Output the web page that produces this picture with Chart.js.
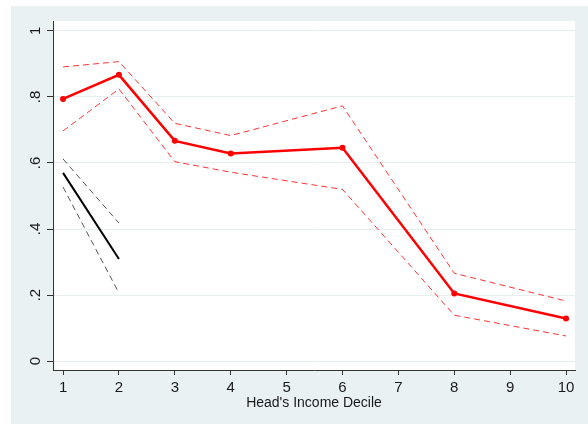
<!DOCTYPE html>
<html>
<head>
<meta charset="utf-8">
<script src="https://cdn.jsdelivr.net/npm/chart.js@4/dist/chart.umd.min.js"></script>
<style>
  html, body { margin: 0; padding: 0; background: #ffffff; }
  #wrap { width: 588px; height: 424px; position: relative; }
</style>
</head>
<body>
<div id="wrap"><canvas id="c" width="588" height="424"></canvas></div>
<script>
// ---- Data ----
const redDeciles   = [1, 2, 3, 4, 6, 8, 10];
const redMean      = [0.794, 0.867, 0.667, 0.629, 0.646, 0.205, 0.129];
const redUpper     = [0.891, 0.907, 0.720, 0.683, 0.773, 0.266, 0.182];
const redLower     = [0.697, 0.824, 0.604, 0.572, 0.520, 0.139, 0.076];

const blackDeciles = [1, 2];
const blackMean    = [0.570, 0.309];
const blackUpper   = [0.612, 0.418];
const blackLower   = [0.527, 0.206];

const xTicks = [1, 2, 3, 4, 5, 6, 7, 8, 9, 10];
const yTicks = [0, 0.2, 0.4, 0.6, 0.8, 1];
const yTickLabels = ['0', '.2', '.4', '.6', '.8', '1'];
const xTitle = "Head's Income Decile";

const pts = (xs, ys) => xs.map((x, i) => ({ x: x, y: ys[i] }));

const FONT = "'Liberation Sans', Arial, sans-serif";

const bgPlugin = {
  id: 'bg',
  beforeDraw(chart) {
    const ctx = chart.ctx;
    const a = chart.chartArea;
    ctx.save();
    ctx.fillStyle = '#ffffff';
    ctx.fillRect(0, 0, chart.width, chart.height);
    ctx.fillStyle = '#eaf1f3';
    ctx.fillRect(11, 6, chart.width - 11, chart.height - 6);
    ctx.fillStyle = '#ffffff';
    ctx.fillRect(a.left, a.top, a.right - a.left, a.bottom - a.top);
    ctx.restore();
  },
  afterDraw(chart) {
    const ctx = chart.ctx;
    const ys = chart.scales.y;
    ctx.save();
    ctx.fillStyle = '#1a1a1a';
    ctx.font = '15px ' + FONT;
    ctx.textAlign = 'center';
    ctx.textBaseline = 'middle';
    ys.ticks.forEach((t, i) => {
      const py = ys.getPixelForValue(t.value);
      ctx.save();
      ctx.translate(36, py);
      ctx.rotate(-Math.PI / 2);
      ctx.fillText(yTickLabels[i], 0, 0);
      ctx.restore();
    });
    ctx.restore();
  }
};

new Chart(document.getElementById('c'), {
  type: 'line',
  data: {
    datasets: [
      { data: pts(redDeciles, redUpper), borderColor: 'rgba(255,0,0,0.8)', borderWidth: 1, borderDash: [6, 4], pointRadius: 0, fill: false, tension: 0 },
      { data: pts(redDeciles, redLower), borderColor: 'rgba(255,0,0,0.8)', borderWidth: 1, borderDash: [6, 4], pointRadius: 0, fill: false, tension: 0 },
      { data: pts(blackDeciles, blackUpper), borderColor: '#555555', borderWidth: 1, borderDash: [6, 4], pointRadius: 0, fill: false, tension: 0 },
      { data: pts(blackDeciles, blackLower), borderColor: '#555555', borderWidth: 1, borderDash: [6, 4], pointRadius: 0, fill: false, tension: 0 },
      { data: pts(blackDeciles, blackMean), borderColor: '#000000', borderWidth: 2, pointRadius: 0, fill: false, tension: 0 },
      { data: pts(redDeciles, redMean), borderColor: '#ff0000', backgroundColor: '#ff0000', borderWidth: 2.5, pointRadius: 3, pointBorderWidth: 0, fill: false, tension: 0 }
    ]
  },
  options: {
    responsive: false,
    animation: false,
    events: [],
    layout: { padding: { left: 0, right: 13, top: 21, bottom: 0 } },
    plugins: { legend: { display: false }, tooltip: { enabled: false } },
    scales: {
      x: {
        type: 'linear',
        min: 0.82,
        max: 10.16,
        afterBuildTicks(s) { s.ticks = xTicks.map(v => ({ value: v })); },
        afterFit(s) { s.height = 54; },
        grid: { drawOnChartArea: false, drawTicks: true, tickLength: 5, tickColor: '#333333', tickWidth: 1 },
        border: { display: true, color: '#333333', width: 1 },
        ticks: { color: '#1a1a1a', font: { family: FONT, size: 15 }, padding: 4, maxRotation: 0, autoSkip: false, callback: v => String(v) },
        title: { display: true, text: xTitle, color: '#1a1a1a', font: { family: FONT, size: 14 }, padding: { top: 0, bottom: 12 } }
      },
      y: {
        type: 'linear',
        min: -0.027,
        max: 1.03,
        afterBuildTicks(s) { s.ticks = yTicks.map(v => ({ value: v })); },
        afterFit(s) { s.width = 53; },
        grid: { color: '#e6eef0', lineWidth: 1, drawTicks: true, tickLength: 6, tickColor: '#333333', tickWidth: 1 },
        border: { display: true, color: '#333333', width: 1 },
        ticks: { display: false }
      }
    }
  },
  plugins: [bgPlugin]
});
</script>
</body>
</html>
